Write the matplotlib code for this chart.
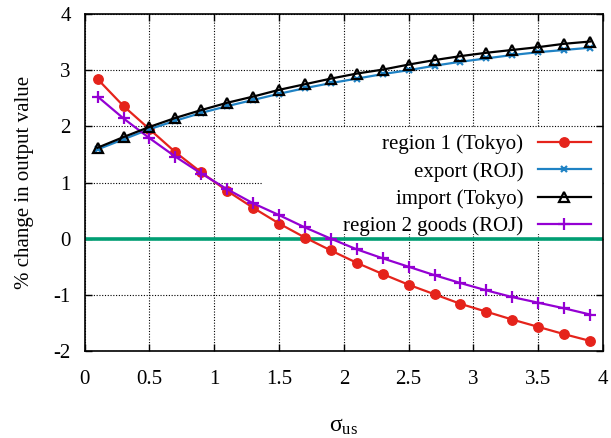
import matplotlib
matplotlib.use('Agg')
import matplotlib.pyplot as plt
from matplotlib.patches import Rectangle

plt.rcParams['font.family'] = ['Liberation Serif', 'DejaVu Serif']
plt.rcParams['mathtext.fontset'] = 'custom'
plt.rcParams['mathtext.rm'] = 'Liberation Serif'
plt.rcParams['mathtext.it'] = 'Liberation Serif:italic'
plt.rcParams['axes.unicode_minus'] = False

# sigma_us values
sigma = [0.1, 0.3, 0.5, 0.7, 0.9, 1.1, 1.3, 1.5, 1.7, 1.9,
         2.1, 2.3, 2.5, 2.7, 2.9, 3.1, 3.3, 3.5, 3.7, 3.9]

region1_tokyo = [2.84, 2.36, 1.95, 1.54, 1.18, 0.85, 0.55, 0.27, 0.02, -0.21,
                 -0.43, -0.63, -0.82, -0.99, -1.16, -1.30, -1.44, -1.57, -1.70, -1.82]
export_roj = [1.59, 1.77, 1.95, 2.10, 2.24, 2.36, 2.47, 2.58, 2.68, 2.77,
              2.85, 2.93, 3.00, 3.08, 3.15, 3.21, 3.27, 3.32, 3.36, 3.40]
import_tokyo = [1.62, 1.81, 1.99, 2.15, 2.29, 2.42, 2.53, 2.65, 2.75, 2.85,
                2.94, 3.01, 3.10, 3.18, 3.25, 3.31, 3.36, 3.41, 3.47, 3.51]
region2_roj = [2.53, 2.14, 1.79, 1.46, 1.16, 0.88, 0.63, 0.42, 0.20, 0.00,
               -0.19, -0.35, -0.50, -0.65, -0.79, -0.92, -1.04, -1.14, -1.24, -1.35]

xticks = [0, 0.5, 1, 1.5, 2, 2.5, 3, 3.5, 4]
xticklabels = ['0', '0.5', '1', '1.5', '2', '2.5', '3', '3.5', '4']
yticks = [-2, -1, 0, 1, 2, 3, 4]

fig = plt.figure(figsize=(6.11, 4.38), dpi=100)
ax = fig.add_axes([0.1386, 0.1986, 0.8483, 0.7694])

ax.set_xlim(0, 4)
ax.set_ylim(-2, 4)
ax.set_xticks(xticks)
ax.set_xticklabels(xticklabels)
ax.set_yticks(yticks)

ax.grid(True, color='black', linestyle=(0, (1, 1.5)), linewidth=0.8, zorder=0)
ax.set_axisbelow(True)

# key area blanks out the grid like gnuplot's key box
ax.add_patch(Rectangle((0.3435, 0.347), 0.66, 0.315, transform=ax.transAxes,
                       facecolor='white', edgecolor='none', zorder=1))

ax.axhline(0, color='#009e73', linewidth=2.6, zorder=2)

lw = 1.6
ax.plot(sigma, region1_tokyo, color='#e5231b', linewidth=lw, marker='o',
        markersize=6.8, label='region 1 (Tokyo)', zorder=3)
ax.plot(sigma, export_roj, color='#1f82c4', linewidth=lw, marker='x',
        markersize=5, markeredgewidth=1.6, label='export (ROJ)', zorder=3)
ax.plot(sigma, import_tokyo, color='black', linewidth=lw, marker='^',
        markersize=7, markerfacecolor='none', markeredgewidth=1.6,
        label='import (Tokyo)', zorder=4)
ax.plot(sigma, region2_roj, color='#9400d3', linewidth=lw, marker='+',
        markersize=9, markeredgewidth=1.6, label='region 2 goods (ROJ)', zorder=3)

for s in ax.spines.values():
    s.set_linewidth(1.2)

ax.tick_params(direction='in', length=5, width=1, top=True, right=True,
               labelsize=15)
ax.tick_params(axis='x', pad=14)
ax.tick_params(axis='y', pad=10)

ax.set_ylabel('% change in output value', fontsize=15, labelpad=14)
ax.set_xlabel(r'$\mathrm{σ}_{\mathrm{us}}$', fontsize=17, labelpad=19)

leg = ax.legend(loc='upper right', bbox_to_anchor=(1.005, 0.685), frameon=False,
                markerfirst=False, fontsize=15, handlelength=2.55,
                handletextpad=0.7, labelspacing=0.36, borderpad=0.2)
for t in leg.get_texts():
    t.set_ha('right')
leg.set_zorder(5)

fig.savefig('out.png', dpi=100)
